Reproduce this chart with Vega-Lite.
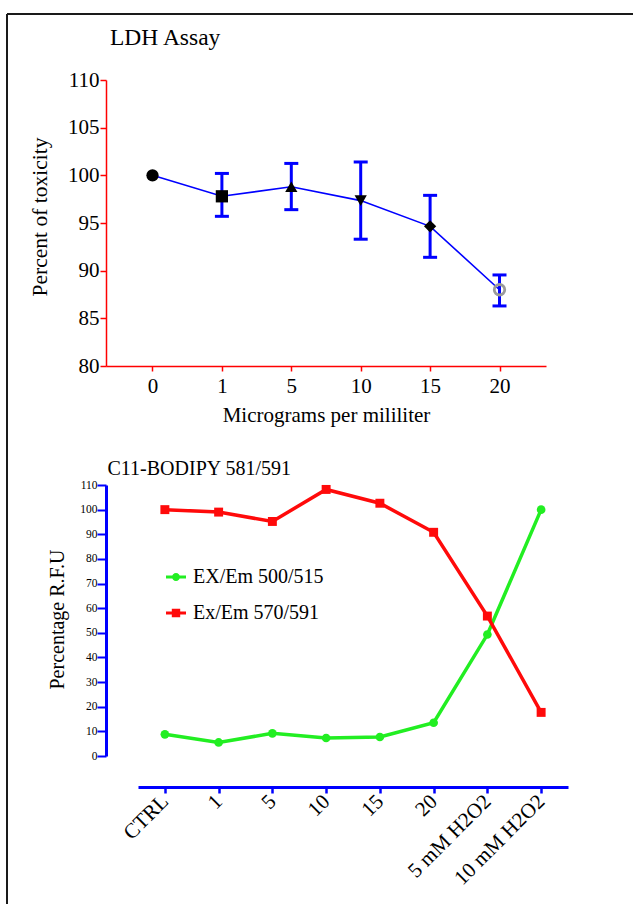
{
  "$schema": "https://vega.github.io/schema/vega-lite/v6.json",
  "width": 626,
  "height": 890,
  "autosize": {"type": "none"},
  "padding": {"left": 7, "top": 14, "right": 0, "bottom": 0},
  "background": "white",
  "config": {
    "view": {"stroke": "#1a1a1a", "strokeWidth": 2, "strokeDash": [626, 1516, 890, 0]},
    "font": "Liberation Serif",
    "axis": {"labelFont": "Liberation Serif", "titleFont": "Liberation Serif", "labelColor": "black", "titleColor": "black", "grid": false, "titleFontWeight": "normal"},
    "legend": {"labelFont": "Liberation Serif"}
  },
  "title": {"text": "LDH Assay", "anchor": "start", "frame": "group", "orient": "top", "offset": -35, "dx": 103, "baseline": "top", "font": "Liberation Serif", "fontSize": 23.5, "fontWeight": "normal", "color": "black"},
  "datasets": {
    "ldh": [
      {"conc": "0", "mean": 100},
      {"conc": "1", "mean": 97.8, "lo": 95.7, "hi": 100.2},
      {"conc": "5", "mean": 98.8, "lo": 96.4, "hi": 101.25},
      {"conc": "10", "mean": 97.35, "lo": 93.3, "hi": 101.4},
      {"conc": "15", "mean": 94.65, "lo": 91.4, "hi": 97.9},
      {"conc": "20", "mean": 88.0, "lo": 86.3, "hi": 89.55}
    ],
    "bodipy": [
      {"cond": "CTRL", "series": "EX/Em 500/515", "value": 8.8},
      {"cond": "1", "series": "EX/Em 500/515", "value": 5.5},
      {"cond": "5", "series": "EX/Em 500/515", "value": 9.2},
      {"cond": "10", "series": "EX/Em 500/515", "value": 7.3},
      {"cond": "15", "series": "EX/Em 500/515", "value": 7.7},
      {"cond": "20", "series": "EX/Em 500/515", "value": 13.5},
      {"cond": "5 mM H2O2", "series": "EX/Em 500/515", "value": 49.3},
      {"cond": "10 mM H2O2", "series": "EX/Em 500/515", "value": 100},
      {"cond": "CTRL", "series": "Ex/Em 570/591", "value": 100},
      {"cond": "1", "series": "Ex/Em 570/591", "value": 99},
      {"cond": "5", "series": "Ex/Em 570/591", "value": 95.2},
      {"cond": "10", "series": "Ex/Em 570/591", "value": 108.2},
      {"cond": "15", "series": "Ex/Em 570/591", "value": 102.6},
      {"cond": "20", "series": "Ex/Em 570/591", "value": 90.8},
      {"cond": "5 mM H2O2", "series": "Ex/Em 570/591", "value": 56.8},
      {"cond": "10 mM H2O2", "series": "Ex/Em 570/591", "value": 17.7}
    ]
  },
  "layer": [
    {
      "data": {"name": "ldh"},
      "encoding": {
        "x": {"field": "conc", "type": "ordinal", "sort": null,
          "scale": {"type": "point", "domain": ["0", "1", "5", "10", "15", "20"], "range": [99, 539], "padding": 0.67},
          "axis": {"orient": "bottom", "offset": -538, "domainColor": "#ff0000", "domainWidth": 1.5, "tickColor": "#ff0000", "tickWidth": 1.5, "tickSize": 5, "labelAngle": 0, "labelFontSize": 21, "labelPadding": 4, "title": "Micrograms per mililiter", "titleFontSize": 21, "titleY": 55, "titleBaseline": "alphabetic"}}
      },
      "layer": [
        {"mark": {"type": "line", "color": "#0000ff", "strokeWidth": 1.6},
          "encoding": {"y": {"field": "mean", "type": "quantitative", "title": "Percent of toxicity",
            "scale": {"domain": [80, 110], "range": [352, 66], "nice": false, "zero": false},
            "axis": {"orient": "left", "offset": -99, "values": [80, 85, 90, 95, 100, 105, 110], "domainColor": "#ff0000", "domainWidth": 1.5, "tickColor": "#ff0000", "tickWidth": 1.5, "tickSize": 6, "labelFontSize": 21, "labelPadding": 1, "titleFontSize": 21.5, "titleX": -60, "titleY": 202.5, "titleBaseline": "alphabetic", "titleAngle": -90}}}},
        {"mark": {"type": "rule", "color": "#0000ff", "strokeWidth": 3},
          "encoding": {"y": {"field": "lo", "type": "quantitative", "title": "Percent of toxicity",
            "scale": {"domain": [80, 110], "range": [352, 66], "nice": false, "zero": false}}, "y2": {"field": "hi"}}},
        {"mark": {"type": "tick", "color": "#0000ff", "thickness": 3, "size": 14, "orient": "horizontal", "opacity": 1},
          "encoding": {"y": {"field": "lo", "type": "quantitative", "title": "Percent of toxicity",
            "scale": {"domain": [80, 110], "range": [352, 66], "nice": false, "zero": false}}}},
        {"mark": {"type": "tick", "color": "#0000ff", "thickness": 3, "size": 14, "orient": "horizontal", "opacity": 1},
          "encoding": {"y": {"field": "hi", "type": "quantitative", "title": "Percent of toxicity",
            "scale": {"domain": [80, 110], "range": [352, 66], "nice": false, "zero": false}}}},
        {"transform": [{"filter": "datum.conc !== '20'"}],
          "mark": {"type": "point", "filled": true, "color": "black", "size": 150, "opacity": 1},
          "encoding": {"y": {"field": "mean", "type": "quantitative", "title": "Percent of toxicity",
            "scale": {"domain": [80, 110], "range": [352, 66], "nice": false, "zero": false}},
            "shape": {"field": "conc", "type": "nominal", "scale": {"domain": ["0", "1", "5", "10", "15"], "range": ["circle", "square", "triangle-up", "triangle-down", "diamond"]}, "legend": null}}},
        {"transform": [{"filter": "datum.conc === '20'"}],
          "mark": {"type": "point", "shape": "circle", "filled": false, "color": "#9a9a9a", "strokeWidth": 2.8, "size": 110, "opacity": 1},
          "encoding": {"y": {"field": "mean", "type": "quantitative", "title": "Percent of toxicity",
            "scale": {"domain": [80, 110], "range": [352, 66], "nice": false, "zero": false}}}}
      ]
    },
    {
      "data": {"name": "bodipy"},
      "encoding": {
        "x": {"field": "cond", "type": "ordinal", "sort": null,
          "scale": {"type": "point", "domain": ["CTRL", "1", "5", "10", "15", "20", "5 mM H2O2", "10 mM H2O2"], "range": [131, 561], "padding": 0.5},
          "axis": {"orient": "bottom", "offset": -117, "domainColor": "#0000ff", "domainWidth": 3, "tickColor": "#0000ff", "tickWidth": 2.5, "tickSize": 6, "labelAngle": -45, "labelAlign": "right", "labelBaseline": "middle", "labelFontSize": 21, "labelPadding": 5, "title": "C11-BODIPY 581/591", "titleFontSize": 20, "titleX": 100, "titleY": -313, "titleAlign": "left", "titleBaseline": "alphabetic"}},
        "y": {"field": "value", "type": "quantitative",
          "scale": {"domain": [0, 110], "range": [742, 471], "nice": false},
          "axis": {"orient": "left", "offset": -99, "values": [0, 10, 20, 30, 40, 50, 60, 70, 80, 90, 100, 110], "domainColor": "#0000ff", "domainWidth": 3, "tickColor": "#0000ff", "tickWidth": 2, "tickSize": 9, "labelFontSize": 11.5, "labelPadding": 0, "title": "Percentage R.F.U", "titleFontSize": 20, "titleX": -42.5, "titleY": 605, "titleBaseline": "alphabetic", "titleAngle": -90}},
        "color": {"field": "series", "type": "nominal",
          "scale": {"domain": ["EX/Em 500/515", "Ex/Em 570/591"], "range": ["#22ee22", "#ff0a0a"]},
          "legend": {"orient": "none", "legendX": 159, "legendY": 553, "title": null, "labelFont": "Liberation Serif", "labelFontSize": 20, "labelColor": "black", "symbolSize": 400, "labelOffset": 7, "rowPadding": 16, "padding": 0,
            "encode": {"symbols": {"update": {
              "shape": {"signal": "datum.value === 'EX/Em 500/515' ? 'M-1,-0.15H1V0.15H-1Z M0.4,0A0.4,0.4 0 1,1 -0.4,0A0.4,0.4 0 1,1 0.4,0Z' : 'M-1,-0.15H1V0.15H-1Z M-0.42,-0.42H0.42V0.42H-0.42Z'"},
              "fill": {"signal": "datum.value === 'EX/Em 500/515' ? '#22ee22' : '#ff0a0a'"},
              "stroke": {"value": "transparent"},
              "strokeWidth": {"value": 0},
              "opacity": {"value": 1},
              "fillOpacity": {"value": 1}}}}}}
      },
      "layer": [
        {"mark": {"type": "line", "strokeWidth": 3.5}},
        {"transform": [{"filter": "datum.series === 'EX/Em 500/515'"}],
          "mark": {"type": "point", "shape": "circle", "filled": true, "opacity": 1, "size": 75}},
        {"transform": [{"filter": "datum.series === 'Ex/Em 570/591'"}],
          "mark": {"type": "point", "shape": "square", "filled": true, "opacity": 1, "size": 80}}
      ]
    }
  ],
  "resolve": {
    "scale": {"x": "independent", "y": "independent", "shape": "independent", "color": "independent"},
    "axis": {"x": "independent", "y": "independent"},
    "legend": {"shape": "independent", "color": "independent"}
  }
}
